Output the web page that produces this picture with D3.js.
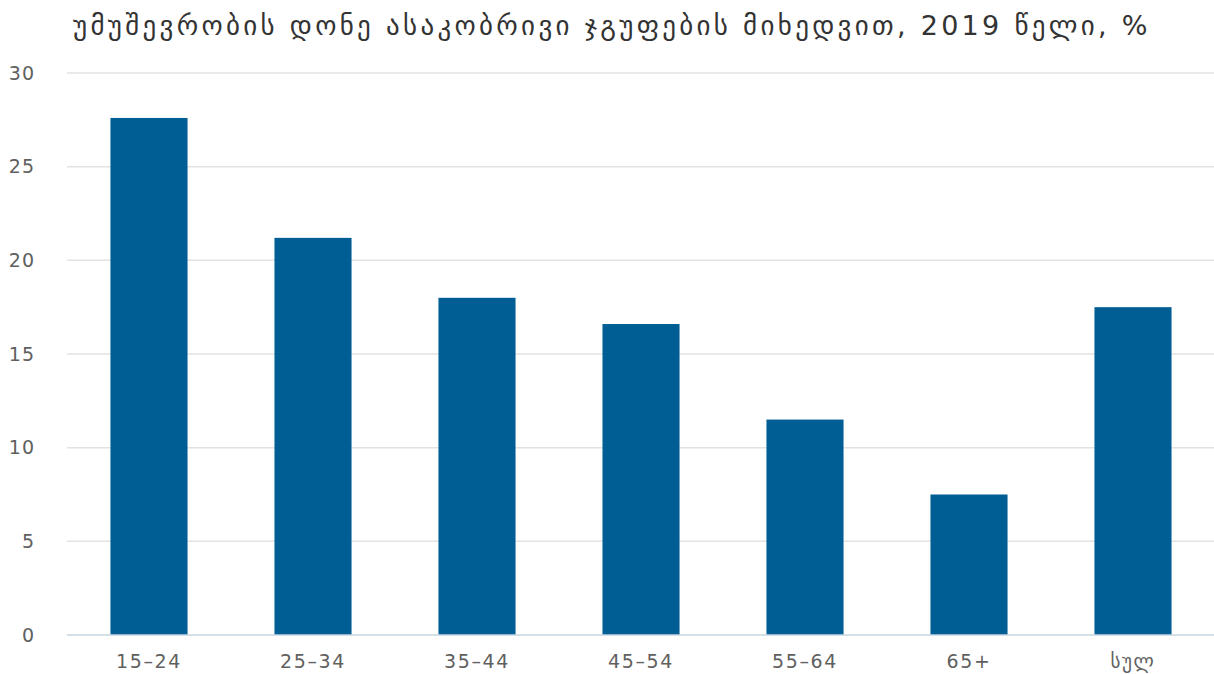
<!DOCTYPE html>
<html>
<head>
<meta charset="utf-8">
<script src="https://cdn.jsdelivr.net/npm/d3@7"></script>
<style>
  html, body { margin: 0; padding: 0; background: #fff; }
  svg { display: block; font-family: "DejaVu Sans", sans-serif; }
</style>
</head>
<body>
<svg id="chart" width="1214" height="674"></svg>
<script>
// Unemployment rate by age group, 2019 (%)
const titleText = "უმუშევრობის დონე ასაკობრივი ჯგუფების მიხედვით, 2019 წელი, %";
const categories = ["15–24", "25–34", "35–44", "45–54", "55–64", "65+", "სულ"];
const values = [27.6, 21.2, 18.0, 16.6, 11.5, 7.5, 17.5];
const yTicks = [0, 5, 10, 15, 20, 25, 30];

const svg = d3.select("#chart");
const margin = { top: 73, right: -1, bottom: 39, left: 67 };
const width = 1214, height = 674;

const x = d3.scaleBand()
  .domain(categories)
  .range([margin.left, width - margin.right])
  .paddingInner(0.53)
  .paddingOuter(0.265);

const y = d3.scaleLinear()
  .domain([0, 30])
  .range([height - margin.bottom, margin.top]);

// Title, set with generous tracking
svg.append("text")
  .attr("x", 73)
  .attr("y", 35)
  .attr("font-size", 27)
  .attr("letter-spacing", 3.3)
  .attr("fill", "#333")
  .text(titleText);

// Horizontal gridlines
svg.append("g")
  .selectAll("line")
  .data(yTicks.filter(d => d > 0))
  .join("line")
  .attr("x1", margin.left)
  .attr("x2", width)
  .attr("y1", d => y(d))
  .attr("y2", d => y(d))
  .attr("stroke", "#e2e2e2")
  .attr("stroke-width", 1.5);

// Y axis labels
const yAxis = d3.axisLeft(y).tickValues(yTicks).tickSize(0).tickPadding(0);
const gy = svg.append("g")
  .attr("transform", `translate(35,0)`)
  .call(yAxis);
gy.select(".domain").remove();
gy.selectAll("text")
  .attr("font-size", 19)
  .attr("font-family", "DejaVu Sans, sans-serif")
  .attr("fill", "#606060")
  .attr("letter-spacing", 1);

// Bars
svg.append("g")
  .selectAll("rect")
  .data(values)
  .join("rect")
  .attr("x", (d, i) => x(categories[i]))
  .attr("width", x.bandwidth())
  .attr("y", d => y(d))
  .attr("height", d => y(0) - y(d))
  .attr("fill", "#005e95");

// Baseline
svg.append("line")
  .attr("x1", margin.left)
  .attr("x2", width)
  .attr("y1", y(0))
  .attr("y2", y(0))
  .attr("stroke", "#c7d5e0")
  .attr("stroke-width", 1.5);

// X axis labels
const xAxis = d3.axisBottom(x).tickSize(0).tickPadding(0);
const gx = svg.append("g")
  .attr("transform", `translate(0,${y(0) + 33})`)
  .call(xAxis);
gx.select(".domain").remove();
gx.selectAll("text")
  .attr("dy", 0)
  .attr("font-size", 19)
  .attr("font-family", "DejaVu Sans, sans-serif")
  .attr("fill", "#606060")
  .attr("letter-spacing", 1.6);
</script>
</body>
</html>
